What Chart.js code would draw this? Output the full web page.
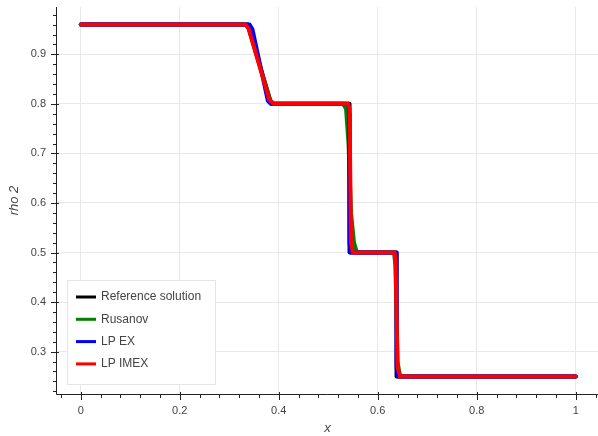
<!DOCTYPE html>
<html>
<head>
<meta charset="utf-8">
<script src="https://cdn.jsdelivr.net/npm/chart.js@4/dist/chart.umd.min.js"></script>
<style>
  body { margin: 0; background: #fff; }
</style>
</head>
<body>
<canvas id="rhoChart" width="598" height="436"></canvas>
<script>
// valores
const seriesNames = ['Reference solution', 'Rusanov', 'LP EX', 'LP IMEX'];
const seriesColors = ['#000000', '#008000', '#0000ff', '#ff0000'];

const refX = [0, 0.337, 0.385, 0.543, 0.543, 0.638, 0.638, 1];
const refY = [0.96, 0.96, 0.80, 0.80, 0.50, 0.50, 0.25, 0.25];

const rusX = [0, 0.334, 0.340, 0.382, 0.390, 0.530, 0.536, 0.541, 0.546, 0.552, 0.558, 0.633, 0.636, 0.640, 0.645, 1];
const rusY = [0.96, 0.96, 0.952, 0.808, 0.80, 0.80, 0.79, 0.72, 0.58, 0.52, 0.50, 0.50, 0.47, 0.28, 0.25, 0.25];

const lpexX = [0, 0.341, 0.347, 0.378, 0.384, 0.541, 0.542, 0.543, 0.545, 0.638, 0.638, 0.638, 0.640, 1];
const lpexY = [0.96, 0.96, 0.950, 0.806, 0.80, 0.80, 0.78, 0.52, 0.50, 0.50, 0.47, 0.27, 0.25, 0.25];

const lpimexX = [0, 0.333, 0.339, 0.381, 0.390, 0.540, 0.543, 0.546, 0.550, 0.634, 0.636, 0.640, 0.645, 1];
const lpimexY = [0.96, 0.96, 0.952, 0.808, 0.80, 0.80, 0.79, 0.52, 0.50, 0.50, 0.48, 0.27, 0.25, 0.25];

const allX = [refX, rusX, lpexX, lpimexX];
const allY = [refY, rusY, lpexY, lpimexY];

const xMin = -0.048, xMax = 1.045;
const yMin = 0.2145, yMax = 0.9955;

function toPoints(xs, ys) {
    return xs.map((x, i) => ({ x: x, y: ys[i] }));
}

function stepTicks(lo, hi, step) {
    const out = [];
    const start = Math.ceil(lo / step - 1e-9);
    const end = Math.floor(hi / step + 1e-9);
    for (let k = start; k <= end; k++) out.push({ value: +(k * step).toFixed(4) });
    return out;
}

function isMajor(v) {
    return Math.abs(v * 5 - Math.round(v * 5)) < 1e-6;
}
function isMajorY(v) {
    return Math.abs(v * 10 - Math.round(v * 10)) < 1e-6;
}

const axisTicks = {
    id: 'axisTicks',
    afterDraw(chart) {
        const ctx = chart.ctx;
        const xs = chart.scales.x, ys = chart.scales.y;
        const a = chart.chartArea;
        ctx.save();
        ctx.strokeStyle = '#222';
        ctx.lineWidth = 1;
        ctx.beginPath();
        ctx.moveTo(a.left - 0.5, a.top);
        ctx.lineTo(a.left - 0.5, a.bottom + 0.5);
        ctx.lineTo(a.right, a.bottom + 0.5);
        ctx.stroke();
        ctx.beginPath();
        xs.ticks.forEach(t => {
            const px = Math.round(xs.getPixelForValue(t.value)) + 0.5;
            const major = isMajor(t.value);
            ctx.moveTo(px, a.bottom + (major ? -2 : 0));
            ctx.lineTo(px, a.bottom + (major ? 6 : 4));
        });
        ys.ticks.forEach(t => {
            const py = Math.round(ys.getPixelForValue(t.value)) + 0.5;
            const major = isMajorY(t.value);
            ctx.moveTo(a.left + (major ? 2 : 0), py);
            ctx.lineTo(a.left - (major ? 6 : 4), py);
        });
        ctx.stroke();

        // legenda no canto inferior esquerdo
        const lx = a.left + 10, lw = 148, lh = 104;
        const ly = a.bottom - 10 - lh;
        ctx.fillStyle = 'rgba(255,255,255,0.95)';
        ctx.fillRect(lx, ly, lw, lh);
        ctx.strokeStyle = '#e5e5e5';
        ctx.strokeRect(lx + 0.5, ly + 0.5, lw, lh);
        ctx.font = '12px "Liberation Sans", Helvetica, Arial, sans-serif';
        ctx.textBaseline = 'middle';
        seriesNames.forEach((name, i) => {
            const cy = ly + 17 + i * 22.3;
            ctx.strokeStyle = seriesColors[i];
            ctx.lineWidth = 3;
            ctx.beginPath();
            ctx.moveTo(lx + 9, cy);
            ctx.lineTo(lx + 29, cy);
            ctx.stroke();
            ctx.fillStyle = '#444';
            ctx.fillText(name, lx + 34, cy);
        });
        ctx.restore();
    }
};

new Chart(document.getElementById('rhoChart'), {
    type: 'line',
    data: {
        datasets: seriesNames.map((name, i) => ({
            label: name,
            data: toPoints(allX[i], allY[i]),
            borderColor: seriesColors[i],
            borderWidth: 4,
            pointRadius: 0,
            tension: 0,
            order: seriesNames.length - i,
            borderJoinStyle: 'round',
            borderCapStyle: 'round'
        }))
    },
    options: {
        responsive: false,
        animation: false,
        layout: { padding: { top: 7, right: 0, left: 0, bottom: 0 } },
        scales: {
            x: {
                type: 'linear',
                min: xMin,
                max: xMax,
                afterBuildTicks: s => { s.ticks = stepTicks(xMin, xMax, 0.04); },
                afterFit: s => { s.height = 42; s.paddingLeft = 0; s.paddingRight = 0; },
                border: { display: false },
                grid: {
                    drawTicks: false,
                    color: c => isMajor(c.tick.value) ? '#e8e8e8' : 'rgba(0,0,0,0)'
                },
                ticks: {
                    padding: 10,
                    autoSkip: false,
                    maxRotation: 0,
                    color: '#444',
                    font: { size: 11, family: '"Liberation Sans", Helvetica, Arial, sans-serif' },
                    callback: v => isMajor(v) ? String(+v.toFixed(1)) : ''
                },
                title: {
                    display: true,
                    text: 'x',
                    color: '#444',
                    padding: { top: 4, bottom: 0 },
                    font: { size: 13, style: 'italic', family: '"Liberation Sans", Helvetica, Arial, sans-serif' }
                }
            },
            y: {
                type: 'linear',
                min: yMin,
                max: yMax,
                afterBuildTicks: s => { s.ticks = stepTicks(yMin, yMax, 0.02); },
                afterFit: s => { s.width = 57; s.paddingTop = 0; s.paddingBottom = 0; },
                border: { display: false },
                grid: {
                    drawTicks: false,
                    color: c => isMajorY(c.tick.value) ? '#e8e8e8' : 'rgba(0,0,0,0)'
                },
                ticks: {
                    padding: 11,
                    autoSkip: false,
                    color: '#444',
                    font: { size: 11, family: '"Liberation Sans", Helvetica, Arial, sans-serif' },
                    callback: v => isMajorY(v) ? v.toFixed(1) : ''
                },
                title: {
                    display: true,
                    text: 'rho 2',
                    color: '#444',
                    padding: { top: 7, bottom: 0 },
                    font: { size: 13, style: 'italic', family: '"Liberation Sans", Helvetica, Arial, sans-serif' }
                }
            }
        },
        plugins: {
            legend: { display: false },
            tooltip: { enabled: false }
        }
    },
    plugins: [axisTicks]
});
</script>
</body>
</html>
